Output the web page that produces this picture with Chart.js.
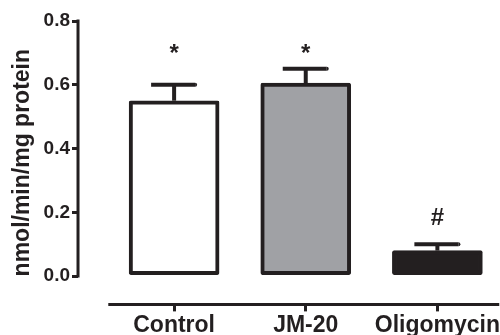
<!DOCTYPE html>
<html>
<head>
<meta charset="utf-8">
<script src="https://cdn.jsdelivr.net/npm/chart.js@4.4.0/dist/chart.umd.min.js"></script>
<style>
    html, body { margin: 0; padding: 0; background: #fff; }
    #wrap { width: 500px; height: 335px; }
</style>
</head>
<body>
<div id="wrap"><canvas id="chart"></canvas></div>
<script>
// data
const categories = ['Control', 'JM-20', 'Oligomycin'];
const means = [0.55, 0.605, 0.08];
const errors = [0.05, 0.045, 0.02];
const marks = ['*', '*', '#'];
const markLevels = [0.707, 0.707, 0.18];
const yTicks = [0, 0.2, 0.4, 0.6, 0.8];
const fills = ['#ffffff', '#a0a1a5', '#231f20'];

const ink = '#231f20';
const font = 'Liberation Sans, Arial, sans-serif';

// error bars, significance marks and the detached axis lines
const extras = {
    id: 'extras',
    afterDatasetsDraw(chart) {
        const ctx = chart.ctx;
        const x = chart.scales.x;
        const y = chart.scales.y;
        const area = chart.chartArea;
        ctx.save();
        ctx.strokeStyle = ink;
        ctx.fillStyle = ink;

        // y axis line only from 0 to 0.8
        ctx.lineWidth = 3;
        ctx.lineCap = 'butt';
        ctx.beginPath();
        ctx.moveTo(area.left, y.getPixelForValue(yTicks[0]) + 1.5);
        ctx.lineTo(area.left, y.getPixelForValue(yTicks[yTicks.length - 1]) - 1.5);
        ctx.stroke();

        // x axis line along the bottom, starting at the first category edge
        ctx.beginPath();
        ctx.moveTo(x.getPixelForValue(-0.5), area.bottom);
        ctx.lineTo(area.right, area.bottom);
        ctx.stroke();

        // error bars
        ctx.lineWidth = 4;
        means.forEach((m, i) => {
            const cx = x.getPixelForValue(i);
            const top = y.getPixelForValue(m + errors[i]);
            ctx.beginPath();
            ctx.moveTo(cx, y.getPixelForValue(m));
            ctx.lineTo(cx, top);
            ctx.stroke();
            ctx.beginPath();
            ctx.moveTo(cx - 23, top);
            ctx.lineTo(cx + 21, top);
            ctx.stroke();
            ctx.beginPath();
            ctx.arc(cx + 21, top, 2, -Math.PI / 2, Math.PI / 2);
            ctx.fill();
        });

        // significance marks
        ctx.font = 'bold 24px ' + font;
        ctx.textAlign = 'center';
        ctx.textBaseline = 'middle';
        marks.forEach((s, i) => {
            ctx.fillText(s, x.getPixelForValue(i), y.getPixelForValue(markLevels[i]) + (s === '*' ? 4 : 0));
        });
        ctx.restore();
    }
};

new Chart(document.getElementById('chart'), {
    type: 'bar',
    data: {
        datasets: [{
            data: means.map((v, i) => ({ x: i, y: v })),
            backgroundColor: fills,
            borderColor: ink,
            borderWidth: 4,
            borderRadius: 2,
            borderSkipped: false,
            barThickness: 90
        }]
    },
    options: {
        responsive: true,
        maintainAspectRatio: false,
        animation: false,
        layout: { padding: { left: 9, right: 0, top: 21, bottom: -4 } },
        plugins: {
            legend: { display: false },
            tooltip: { enabled: false }
        },
        scales: {
            x: {
                type: 'linear',
                offset: false,
                min: -0.73,
                max: 2.47,
                afterBuildTicks: (scale) => {
                    scale.ticks = categories.map((c, i) => ({ value: i }));
                },
                grid: {
                    offset: false,
                    drawOnChartArea: false,
                    drawTicks: true,
                    tickLength: 7,
                    lineWidth: 3,
                    color: ink
                },
                border: { display: false },
                ticks: {
                    autoSkip: false,
                    maxRotation: 0,
                    padding: 0,
                    color: ink,
                    font: { family: font, size: 23, weight: 'bold' },
                    callback: (v) => categories[v]
                }
            },
            y: {
                min: -0.0888,
                max: 0.8,
                afterBuildTicks: (scale) => {
                    scale.ticks = yTicks.map(v => ({ value: v }));
                },
                grid: {
                    drawOnChartArea: false,
                    drawTicks: true,
                    tickLength: 6,
                    lineWidth: 3,
                    color: ink
                },
                border: { display: false },
                ticks: {
                    padding: 2,
                    color: ink,
                    font: { family: font, size: 19, weight: 'bold' },
                    callback: (v) => v.toFixed(1)
                },
                title: {
                    display: true,
                    text: 'nmol/min/mg protein',
                    color: ink,
                    padding: { top: 0, bottom: 5 },
                    font: { family: font, size: 23, weight: 'bold' }
                }
            }
        }
    },
    plugins: [extras]
});
</script>
</body>
</html>
